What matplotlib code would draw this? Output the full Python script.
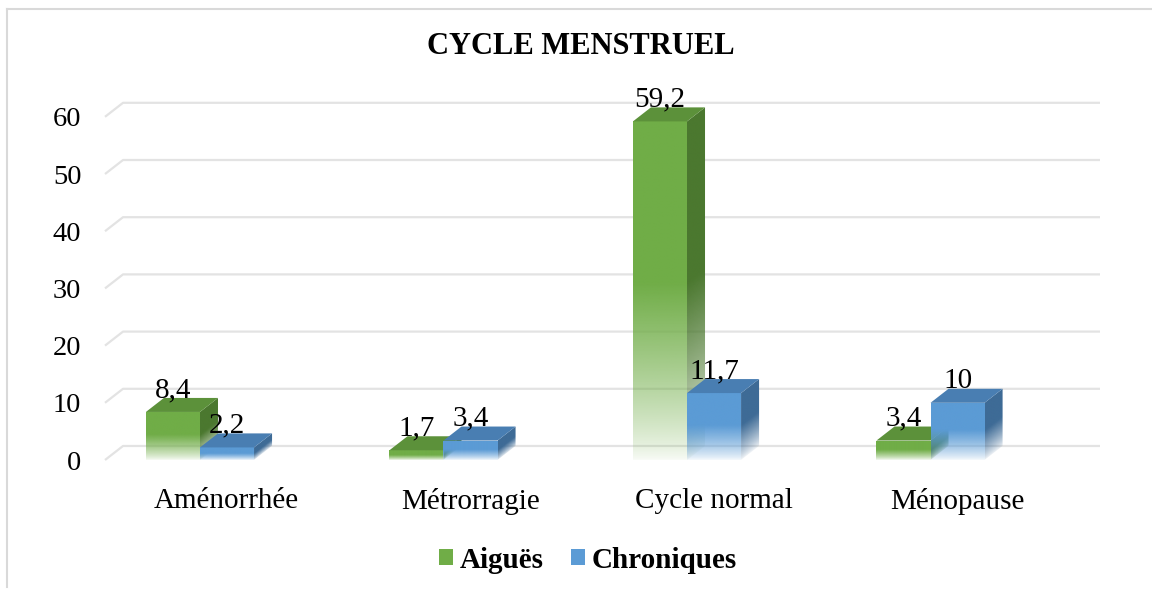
"""
Cycle menstruel - Excel-style 3D clustered bars with fading faces.
"""

import matplotlib
matplotlib.use("Agg")
import matplotlib.pyplot as plt
import numpy as np
from matplotlib.lines import Line2D
from matplotlib.patches import Patch, Polygon

plt.rcParams["font.family"] = ["Liberation Serif", "DejaVu Serif"]

# Data
categories = ["Aménorrhée", "Métrorragie", "Cycle normal", "Ménopause"]
series_names = ["Aiguës", "Chroniques"]
aigues = [8.4, 1.7, 59.2, 3.4]
chroniques = [2.2, 3.4, 11.7, 10]
value_labels_aigues = ["8,4", "1,7", "59,2", "3,4"]
value_labels_chroniques = ["2,2", "3,4", "11,7", "10"]
yticks = [0, 10, 20, 30, 40, 50, 60]

# Style
front_colors = ["#70AD47", "#5B9BD5"]
top_colors = ["#5c913a", "#497eb2"]
side_colors = ["#4b782f", "#3e6b96"]
bar_w = 0.222   # category units
dx = 0.074      # depth offset, category units
dy = 2.45       # depth offset, value units
fs = 21


def fade_alpha(frac):
    frac = np.clip(frac, 0, 1)
    return 0.05 + 0.95 * np.clip(frac / 0.52, 0, 1) ** 0.8


def gradient_face(ax, verts, color, v, x0, x1, y0, y1, slope):
    # slope: value shift per category unit across the face (side faces)
    nx, ny = 24, 300
    xs = np.linspace(x0, x1, nx)
    ys = np.linspace(y1, y0, ny)
    X, Y = np.meshgrid(xs, ys)
    local = Y - (X - x0) * slope
    rgb = np.array(matplotlib.colors.to_rgb(color))
    img = np.zeros((ny, nx, 4))
    img[..., :3] = rgb
    img[..., 3] = fade_alpha(local / v)
    poly = Polygon(verts, closed=True, facecolor="none", edgecolor="none")
    ax.add_patch(poly)
    im = ax.imshow(img, extent=(x0, x1, y0, y1), aspect="auto",
                   interpolation="bilinear", zorder=3)
    im.set_clip_path(poly)


def draw_bar(ax, xl, v, k):
    xr = xl + bar_w
    gradient_face(ax, [(xl, 0), (xr, 0), (xr, v), (xl, v)],
                  front_colors[k], v, xl, xr, 0, v, 0.0)
    gradient_face(ax, [(xr, 0), (xr + dx, dy), (xr + dx, v + dy), (xr, v)],
                  side_colors[k], v, xr, xr + dx, 0, v + dy, dy / dx)
    ax.add_patch(Polygon([(xl, v), (xr, v), (xr + dx, v + dy), (xl + dx, v + dy)],
                         closed=True, facecolor=top_colors[k], edgecolor="none",
                         zorder=3))


fig = plt.figure(figsize=(11.52, 5.91), dpi=100)
ax = fig.add_axes([105 / 1152, 1 - 460 / 591, 995 / 1152, (460 - 82.5) / 591])

x = np.arange(len(categories))
ax.set_xlim(-0.390, 3.696)
ax.set_ylim(0, 66)

# back wall gridlines with floor diagonal
xmin, xmax = ax.get_xlim()
for t in yticks:
    ax.plot([xmin, xmin + dx, xmax], [t, t + dy, t + dy], color="#e3e3e3",
            lw=1.6, zorder=1, clip_on=False, solid_capstyle="butt")

for i in range(len(categories)):
    draw_bar(ax, x[i] - bar_w, aigues[i], 0)
    draw_bar(ax, x[i], chroniques[i], 1)
    ax.text(x[i] - bar_w / 2, aigues[i] + dy - 0.9, value_labels_aigues[i],
            ha="center", va="bottom", fontsize=fs, zorder=5)
    ax.text(x[i] + bar_w / 2, chroniques[i] + dy - 0.9, value_labels_chroniques[i],
            ha="center", va="bottom", fontsize=fs, zorder=5)

ax.set_yticks(yticks)
ax.set_yticklabels([str(t) for t in yticks], fontsize=20.5)
ax.set_xticks(x + 0.11)
ax.set_xticklabels(categories, fontsize=fs)
ax.tick_params(axis="y", length=0, pad=17)
ax.tick_params(axis="x", length=0, pad=20)
for s in ax.spines.values():
    s.set_visible(False)
ax.set_facecolor("none")

fig.text(581 / 1152, 1 - 46 / 591, "CYCLE MENSTRUEL", ha="center", va="center",
         fontsize=22, fontweight="bold")

handles = [Patch(facecolor=front_colors[0]), Patch(facecolor=front_colors[1])]
fig.legend(handles, series_names, loc="center", bbox_to_anchor=(588 / 1152, 1 - 560 / 591),
           ncol=2, frameon=False, prop={"size": fs, "weight": "bold"},
           handlelength=0.48, handleheight=0.48, handletextpad=0.22, columnspacing=0.95)

# outer chart border (only top and left edges visible)
fig.add_artist(Line2D([7 / 1152, 1], [1 - 8.5 / 591, 1 - 8.5 / 591],
                      transform=fig.transFigure, color="#d9d9d9", lw=1.5))
fig.add_artist(Line2D([7 / 1152, 7 / 1152], [1 - 8.5 / 591, 1 - 587 / 591],
                      transform=fig.transFigure, color="#d9d9d9", lw=1.5))

fig.savefig("out.png", dpi=100)
